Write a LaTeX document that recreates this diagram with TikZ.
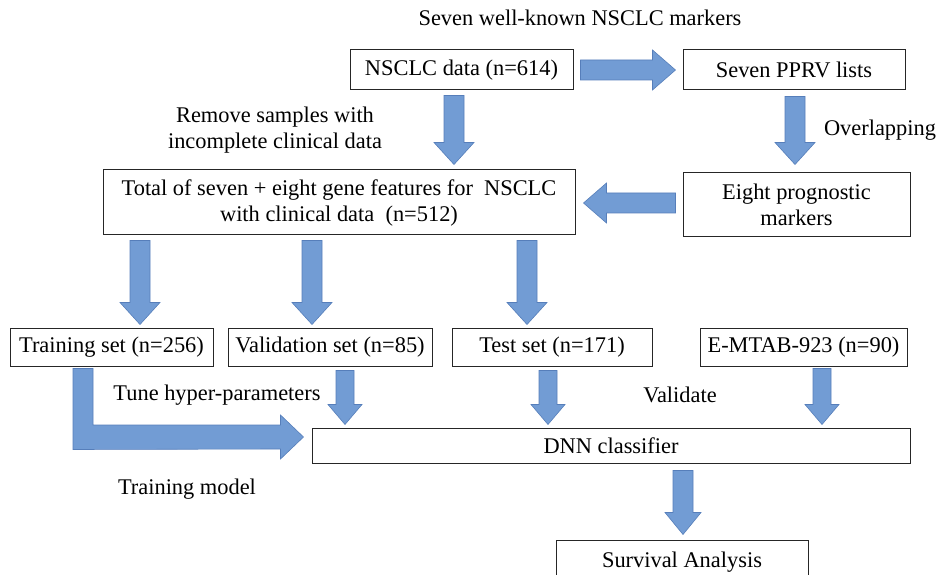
\documentclass[tikz,border=0pt]{standalone}
\usepackage{fontspec}
\setmainfont{Liberation Serif}
\usetikzlibrary{calc}
\definecolor{arrowblue}{RGB}{114,156,212}
\definecolor{arrowline}{RGB}{86,126,186}
\tikzset{
  box/.style={draw=black!85, line width=1pt, inner sep=0pt, align=center},
  note/.style={inner sep=0pt, align=center},
  fatarrow/.style={fill=arrowblue, draw=arrowline, line width=0.6pt, line join=miter},
}
% block arrow: from, to, half shaft, half head, head length
\newcommand{\fatarrow}[5]{%
  \coordinate (fa-a) at #1;%
  \coordinate (fa-b) at #2;%
  \coordinate (fa-h) at ($(fa-b)!#5!(fa-a)$);%
  \draw[fatarrow] ($(fa-a)!#3!90:(fa-b)$) -- ($(fa-h)!#3!-90:(fa-a)$) -- ($(fa-h)!#4!-90:(fa-a)$)
    -- (fa-b) -- ($(fa-h)!#4!90:(fa-a)$) -- ($(fa-h)!#3!90:(fa-a)$) -- ($(fa-a)!#3!-90:(fa-b)$) -- cycle;%
}
\begin{document}
\begin{tikzpicture}[x=1pt, y=-1pt, font=\fontsize{22.4}{26}\selectfont]
  \useasboundingbox (0,0) rectangle (938,575);
  \clip (0,0) rectangle (938,575);

  % Drawing the boxes
  \node[box, minimum width=223pt, minimum height=40pt] (data) at (461.5,70) {NSCLC data (n=614)};%
  \node[box, minimum width=222pt, minimum height=40pt] (pprv) at (794,70) {Seven PPRV lists};%
  \node[box, minimum width=472pt, minimum height=65pt] (total) at (339,202.5) {Total of seven + eight gene features for\ \ NSCLC\\with clinical data\ \ (n=512)};%
  \node[box, minimum width=227pt, minimum height=64pt] (eight) at (796.5,205) {Eight prognostic\\markers};%
  \node[box, minimum width=203pt, minimum height=38pt] (train) at (111.5,347) {Training set (n=256)};%
  \node[box, minimum width=204pt, minimum height=38pt] (valid) at (330,347) {Validation set (n=85)};%
  \node[box, minimum width=200pt, minimum height=38pt] (test) at (552,347) {Test set (n=171)};%
  \node[box, minimum width=207pt, minimum height=38pt] (emtab) at (803.5,347) {E-MTAB-923 (n=90)};%
  \node[box, minimum width=598pt, minimum height=35pt] (dnn) at (611,445.5) {DNN classifier};%
  \node[box, minimum width=252pt, minimum height=45pt] (surv) at (682,562.5) {Survival Analysis};%

  % Marking the notes
  \node[note] (title) at (580,18) {Seven well-known NSCLC markers};%
  \node[note] (remove) at (275,130) {Remove samples with\\incomplete clinical data};%
  \node[note] (overlap) at (880,130) {Overlapping};%
  \node[note] (tune) at (217,395) {Tune hyper-parameters};%
  \node[note] (validate) at (680,395) {Validate};%
  \node[note] (trainmodel) at (187,489) {Training model};%

  % Drawing the big arrows
  \fatarrow{($(data.east)+(7,0)$)}{($(pprv.west)+(-7,0)$)}{10pt}{20pt}{23pt}%
  \fatarrow{($(data.south)+(-7.5,5)$)}{($(total.north)+(115,-5)$)}{10pt}{20pt}{22pt}%
  \fatarrow{($(pprv.south)+(1,6)$)}{($(eight.north)+(-1.5,-8)$)}{10pt}{20pt}{22pt}%
  \fatarrow{($(eight.west)+(-7,-2)$)}{($(total.east)+(8,0.5)$)}{10pt}{20pt}{23pt}%
  \fatarrow{($(total.south)+(-199,5)$)}{($(train.north)+(28.5,-3)$)}{10pt}{20pt}{22pt}%
  \fatarrow{($(total.south)+(-27,5)$)}{($(valid.north)+(-18,-3)$)}{10pt}{20pt}{22pt}%
  \fatarrow{($(total.south)+(188,5)$)}{($(test.north)+(-25,-3)$)}{10pt}{20pt}{22pt}%

  % Drawing the small arrows
  \fatarrow{($(valid.south)+(15,4)$)}{($(valid.south |- dnn.north)+(15,-3)$)}{9pt}{17pt}{20pt}%
  \fatarrow{($(test.south)+(-4,4)$)}{($(test.south |- dnn.north)+(-4,-3)$)}{9pt}{17pt}{20pt}%
  \fatarrow{($(emtab.south)+(18.5,2)$)}{($(emtab.south |- dnn.north)+(18.5,-3)$)}{9pt}{17pt}{20pt}%
  \fatarrow{($(surv.north |- dnn.south)+(1,7)$)}{($(surv.north)+(1,-5)$)}{10pt}{18pt}{22pt}%

  % Drawing the bent arrow
  \coordinate (tip) at ($(dnn.west)+(-8,-8.5)$);%
  \draw[fatarrow] ($(train.south)+(-38.5,2)$) -- ++(20,0) |- ($(tip)+(-23,-12)$) -- ++(0,-10) -- (tip)
    -- ++(-23,22) -- ++(0,-10) -- ($(train.south)+(-38.5,83)$) -- cycle;%
\end{tikzpicture}
\end{document}
